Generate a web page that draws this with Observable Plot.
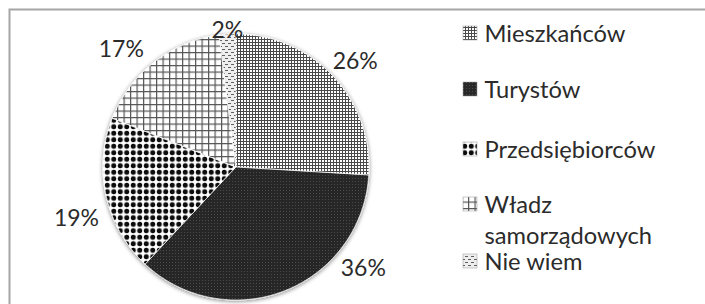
<!DOCTYPE html>
<html>
<head>
<meta charset="utf-8">
<script src="https://cdn.jsdelivr.net/npm/d3@7"></script>
<script src="https://cdn.jsdelivr.net/npm/@observablehq/plot@0.6"></script>
<style>
  html, body { margin: 0; padding: 0; background: #fff; overflow: hidden; }
  #chart svg { display: block; }
</style>
</head>
<body>
<div id="chart"></div>
<script>
// ---- data ----
const categories = ["Mieszkańców", "Turystów", "Przedsiębiorców", "Władz samorządowych", "Nie wiem"];
const values = [26, 36, 19, 17, 2];
const valueLabels = values.map(v => `${v}%`);

// ---- style / layout ----
const patterns = ["pat-miesz", "pat-tur", "pat-przed", "pat-wladz", "pat-nie"];
const W = 705, H = 304;
const pieCenter = [236, 167], pieRadius = 133;
// best-fit label placement (angle in degrees from 12 o'clock, distance in px)
const labelAngles = [48.3, 128.5, 252.3, 315.7, 356.2];
const labelDistances = [159, 162, 168, 165, 137];
const legendX = 463, legendTextX = 484, legendSwatch = 14;
const legendBaselines = [41, 97, 157, 212, 269];
const legendLineGap = 31;
const textColor = "#2b2b2b";
const fontFamily = "Lato, 'Open Sans', sans-serif";
const labelFontSize = 23;
const legendFontSize = 23.7;

const defs = `
    <pattern id="pat-miesz" patternUnits="userSpaceOnUse" width="3" height="3">
      <rect width="3" height="3" fill="#ffffff"/>
      <rect width="3" height="1" fill="#4a4a4a"/>
      <rect width="1" height="3" fill="#4a4a4a"/>
    </pattern>
    <pattern id="pat-tur" patternUnits="userSpaceOnUse" width="3" height="3">
      <rect width="3" height="3" fill="#282828"/>
      <rect x="1" y="1" width="1" height="1" fill="#4c4c4c"/>
    </pattern>
    <pattern id="pat-przed" patternUnits="userSpaceOnUse" width="6.5" height="6.5">
      <rect width="6.5" height="6.5" fill="#ffffff"/>
      <circle cx="3.25" cy="3.25" r="2.5" fill="#0a0a0a"/>
    </pattern>
    <pattern id="pat-wladz" patternUnits="userSpaceOnUse" width="6.5" height="6.5">
      <rect width="6.5" height="6.5" fill="#ffffff"/>
      <rect width="6.5" height="1.2" fill="#555555"/>
      <rect width="1.2" height="6.5" fill="#555555"/>
    </pattern>
    <pattern id="pat-nie" patternUnits="userSpaceOnUse" width="6" height="6">
      <rect width="6" height="6" fill="#eeeeee"/>
      <rect x="0" y="1" width="3" height="1" fill="#5e5e5e"/>
      <rect x="3" y="4" width="3" height="1" fill="#5e5e5e"/>
    </pattern>
    <filter id="pieShadow" x="-15%" y="-15%" width="130%" height="130%">
      <feGaussianBlur in="SourceAlpha" stdDeviation="2.2" result="blur"/>
      <feOffset in="blur" dx="0" dy="1" result="off"/>
      <feComponentTransfer in="off" result="shadow"><feFuncA type="linear" slope="0.5"/></feComponentTransfer>
      <feMerge><feMergeNode in="shadow"/><feMergeNode in="SourceGraphic"/></feMerge>
    </filter>`;

// ---- geometry via d3.pie ----
const arcs = d3.pie().sort(null).value(d => d)(values);
const slices = arcs.map((a, i) => {
  const n = Math.max(2, Math.ceil((a.endAngle - a.startAngle) / (Math.PI / 180)));
  return d3.range(n + 1).map(k => {
    const t = a.startAngle + (a.endAngle - a.startAngle) * k / n;
    return {
      cat: categories[i],
      px: pieCenter[0] + pieRadius * Math.sin(t),
      py: pieCenter[1] - pieRadius * Math.cos(t),
      cx: pieCenter[0],
      cy: pieCenter[1]
    };
  });
});

const labelRows = valueLabels.map((t, i) => {
  const a = labelAngles[i] * Math.PI / 180;
  return {
    text: t,
    x: pieCenter[0] + labelDistances[i] * Math.sin(a),
    y: pieCenter[1] - labelDistances[i] * Math.cos(a)
  };
});

const legendRows = [];
const swatchRows = [];
categories.forEach((c, i) => {
  const lines = c.length > 16 ? c.split(" ") : [c];
  lines.forEach((l, j) => legendRows.push({text: l, x: legendTextX, y: legendBaselines[i] + j * legendLineGap}));
  swatchRows.push({
    x1: legendX, x2: legendX + legendSwatch,
    y1: legendBaselines[i] - legendSwatch - 1, y2: legendBaselines[i] - 1,
    fill: `url(#${patterns[i]})`
  });
});

const marks = [
  Plot.frame({stroke: "#a6a6a6", strokeWidth: 2, insetLeft: 9, insetTop: 9, insetRight: -6, insetBottom: -6})
];
slices.forEach((pts, i) => {
  marks.push(Plot.area(pts, {
    x1: "cx", y1: "cy", x2: "px", y2: "py",
    fill: `url(#${patterns[i]})`,
    stroke: "#ffffff", strokeWidth: 1, strokeOpacity: 0.7,
    curve: "linear"
  }));
});
marks.push(Plot.text(labelRows, {
  x: "x", y: "y", text: "text", fill: textColor, fontSize: labelFontSize,
  textAnchor: "middle", lineAnchor: "middle"
}));
swatchRows.forEach(s => {
  marks.push(Plot.rect([s], {x1: "x1", x2: "x2", y1: "y1", y2: "y2", fill: s.fill, stroke: "#999999", strokeWidth: 0.5}));
});
marks.push(Plot.text(legendRows, {
  x: "x", y: "y", text: "text", fill: textColor, fontSize: legendFontSize,
  textAnchor: "start", lineAnchor: "bottom"
}));

const chart = Plot.plot({
  width: W, height: H,
  margin: 0,
  style: {fontFamily, background: "#ffffff", overflow: "hidden"},
  x: {domain: [0, W], range: [0, W], axis: null},
  y: {domain: [0, H], range: [0, H], axis: null},
  marks
});
const svgEl = chart.tagName === "svg" ? chart : chart.querySelector("svg");
const svg = d3.select(svgEl);
svg.insert("defs", ":first-child").html(defs);
// group the pie slices so they share one soft shadow
const areaGroups = svg.selectAll('g[aria-label="area"]').nodes();
if (areaGroups.length) {
  const pieG = document.createElementNS("http://www.w3.org/2000/svg", "g");
  pieG.setAttribute("filter", "url(#pieShadow)");
  areaGroups[0].parentNode.insertBefore(pieG, areaGroups[0]);
  areaGroups.forEach(g => pieG.appendChild(g));
}
document.getElementById("chart").appendChild(chart);
</script>
</body>
</html>
